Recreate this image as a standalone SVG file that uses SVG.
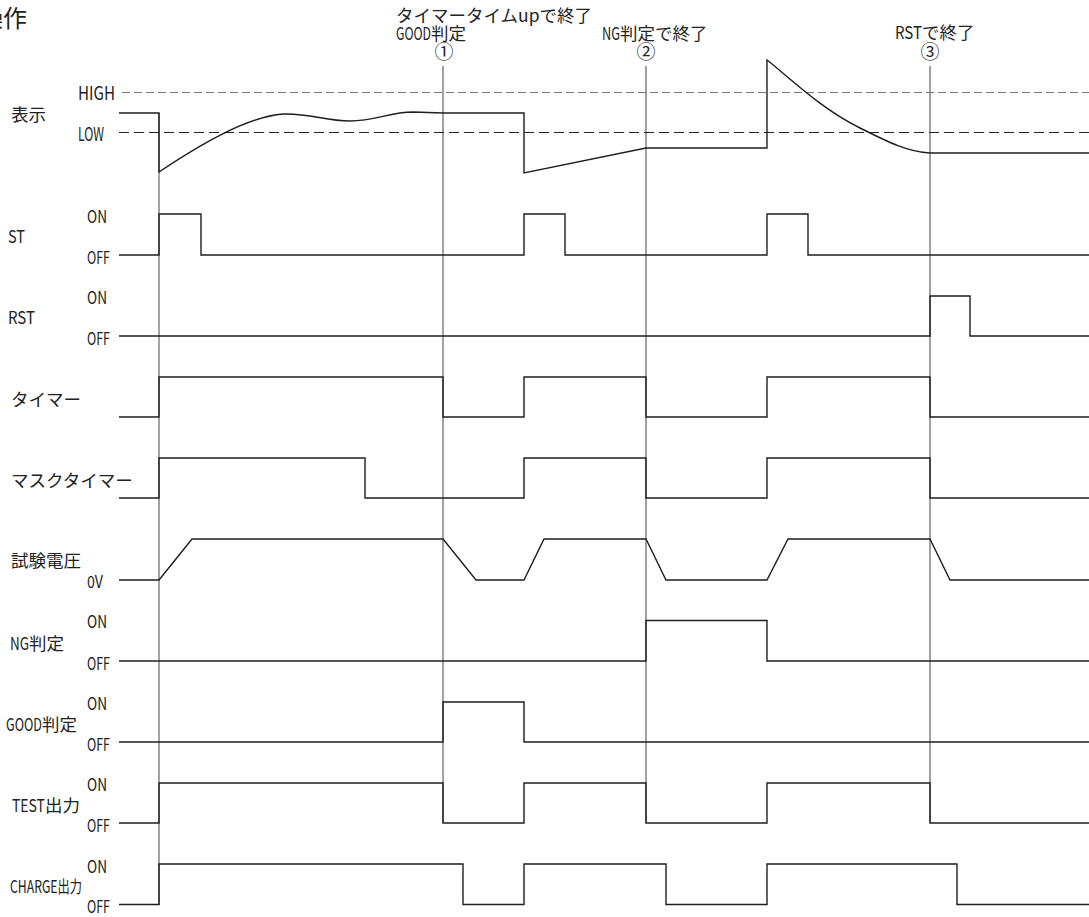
<svg xmlns="http://www.w3.org/2000/svg" width="1089" height="917" viewBox="0 0 1089 917">
<style>
text{font-family:"Noto Sans CJK JP","Liberation Sans",sans-serif;fill:#222}
.nm{font-size:17.5px}
.lv{font-size:17px}
.hl{font-size:18.5px}
.ttl{font-size:17.5px}
.cn{font-size:19px;text-anchor:middle}
.sig{fill:none;stroke:#1e1e1e;stroke-width:1.4;stroke-linejoin:miter}
.mk{fill:none;stroke:#444;stroke-width:1}
.dh{fill:none;stroke:#777;stroke-width:1.2;stroke-dasharray:8 4}
.dl{fill:none;stroke:#222;stroke-width:1.2;stroke-dasharray:10 5}
</style>
<rect x="0" y="0" width="1089" height="917" fill="#fff"/>
<text x="-21" y="27" style="font-size:24px">操作</text>

<g id="top-labels">
<text class="ttl" x="396" y="21.5" textLength="196" lengthAdjust="spacingAndGlyphs">タイマータイムupで終了</text>
<text class="ttl" x="396" y="40"><tspan textLength="35" lengthAdjust="spacingAndGlyphs">GOOD</tspan>判定</text>
<text class="cn" x="444" y="58.5">①</text>
<text class="ttl" x="602" y="40"><tspan textLength="18" lengthAdjust="spacingAndGlyphs">NG</tspan>判定で終了</text>
<text class="cn" x="646" y="58.5">②</text>
<text class="ttl" x="895" y="39"><tspan textLength="27" lengthAdjust="spacingAndGlyphs">RST</tspan>で終了</text>
<text class="cn" x="930" y="58.5">③</text>
</g>

<g id="connectors">
<line class="mk" x1="159" y1="113" x2="159" y2="905"/>
<line class="mk" x1="443" y1="66" x2="443" y2="823"/>
<line class="mk" x1="646" y1="66" x2="646" y2="823"/>
<line class="mk" x1="930" y1="66" x2="930" y2="823"/>
</g>

<g id="display">
<line class="dh" x1="122" y1="92.5" x2="1089" y2="92.5"/>
<line class="dl" x1="119" y1="132.5" x2="1089" y2="132.5"/>
<text class="hl" x="78" y="100" textLength="37" lengthAdjust="spacingAndGlyphs">HIGH</text>
<text class="hl" x="78" y="141" textLength="26" lengthAdjust="spacingAndGlyphs">LOW</text>
<text class="nm" x="11" y="121">表示</text>
<path class="sig" d="M119,113 H159 V172 C195,148 245,117 283,114 C310,113 325,121 350,121 C375,121 390,112 413,112 L443,113 H524 V173 L646,148 H767 V60 C790,78 820,108 860,128 C888,142 908,152 930,153 H1089"/>
</g>

<g id="st">
<text class="nm" x="8" y="243" textLength="17" lengthAdjust="spacingAndGlyphs">ST</text>
<text class="lv" x="87" y="223" textLength="20" lengthAdjust="spacingAndGlyphs">ON</text>
<text class="lv" x="87" y="264" textLength="23" lengthAdjust="spacingAndGlyphs">OFF</text>
<path class="sig" d="M119,255 H159 V214 H201 V255 H524 V214 H565 V255 H767 V214 H808 V255 H1089"/>
</g>

<g id="rst">
<text class="nm" x="8" y="324" textLength="27" lengthAdjust="spacingAndGlyphs">RST</text>
<text class="lv" x="87" y="304" textLength="20" lengthAdjust="spacingAndGlyphs">ON</text>
<text class="lv" x="87" y="345" textLength="23" lengthAdjust="spacingAndGlyphs">OFF</text>
<path class="sig" d="M119,336 H930 V296 H970 V336 H1089"/>
</g>

<g id="timer">
<text class="nm" x="11" y="406">タイマー</text>
<path class="sig" d="M119,417 H159 V377 H443 V417 H524 V377 H646 V417 H767 V377 H930 V417 H1089"/>
</g>

<g id="mask-timer">
<text class="nm" x="11" y="487">マスクタイマー</text>
<path class="sig" d="M119,498 H159 V458 H365 V498 H524 V458 H646 V498 H767 V458 H930 V498 H1089"/>
</g>

<g id="test-voltage">
<text class="nm" x="11" y="567">試験電圧</text>
<text class="lv" x="87" y="588" textLength="16" lengthAdjust="spacingAndGlyphs">0V</text>
<path class="sig" d="M119,580 H159 L192,539 H443 L476,580 H524 L544,539 H646 L666,580 H767 L788,539 H930 L950,580 H1089"/>
</g>

<g id="ng">
<text class="nm" x="10" y="650"><tspan textLength="19" lengthAdjust="spacingAndGlyphs">NG</tspan>判定</text>
<text class="lv" x="87" y="628" textLength="20" lengthAdjust="spacingAndGlyphs">ON</text>
<text class="lv" x="87" y="670" textLength="23" lengthAdjust="spacingAndGlyphs">OFF</text>
<path class="sig" d="M119,661 H646 V620.5 H767 V661 H1089"/>
</g>

<g id="good">
<text class="nm" x="6" y="731"><tspan textLength="36" lengthAdjust="spacingAndGlyphs">GOOD</tspan>判定</text>
<text class="lv" x="87" y="710" textLength="20" lengthAdjust="spacingAndGlyphs">ON</text>
<text class="lv" x="87" y="751" textLength="23" lengthAdjust="spacingAndGlyphs">OFF</text>
<path class="sig" d="M119,742 H443 V702 H524 V742 H1089"/>
</g>

<g id="test-out">
<text class="nm" x="12" y="812"><tspan textLength="33" lengthAdjust="spacingAndGlyphs">TEST</tspan>出力</text>
<text class="lv" x="87" y="791" textLength="20" lengthAdjust="spacingAndGlyphs">ON</text>
<text class="lv" x="87" y="832" textLength="23" lengthAdjust="spacingAndGlyphs">OFF</text>
<path class="sig" d="M119,823 H159 V783 H443 V823 H524 V783 H646 V823 H767 V783 H930 V823 H1089"/>
</g>

<g id="charge-out">
<text class="nm" x="10" y="893" textLength="72" lengthAdjust="spacingAndGlyphs">CHARGE出力</text>
<text class="lv" x="87" y="873" textLength="20" lengthAdjust="spacingAndGlyphs">ON</text>
<text class="lv" x="87" y="913" textLength="23" lengthAdjust="spacingAndGlyphs">OFF</text>
<path class="sig" d="M119,904.5 H159 V864 H463 V904.5 H524 V864 H666 V904.5 H767 V864 H957 V904.5 H1089"/>
</g>
</svg>
